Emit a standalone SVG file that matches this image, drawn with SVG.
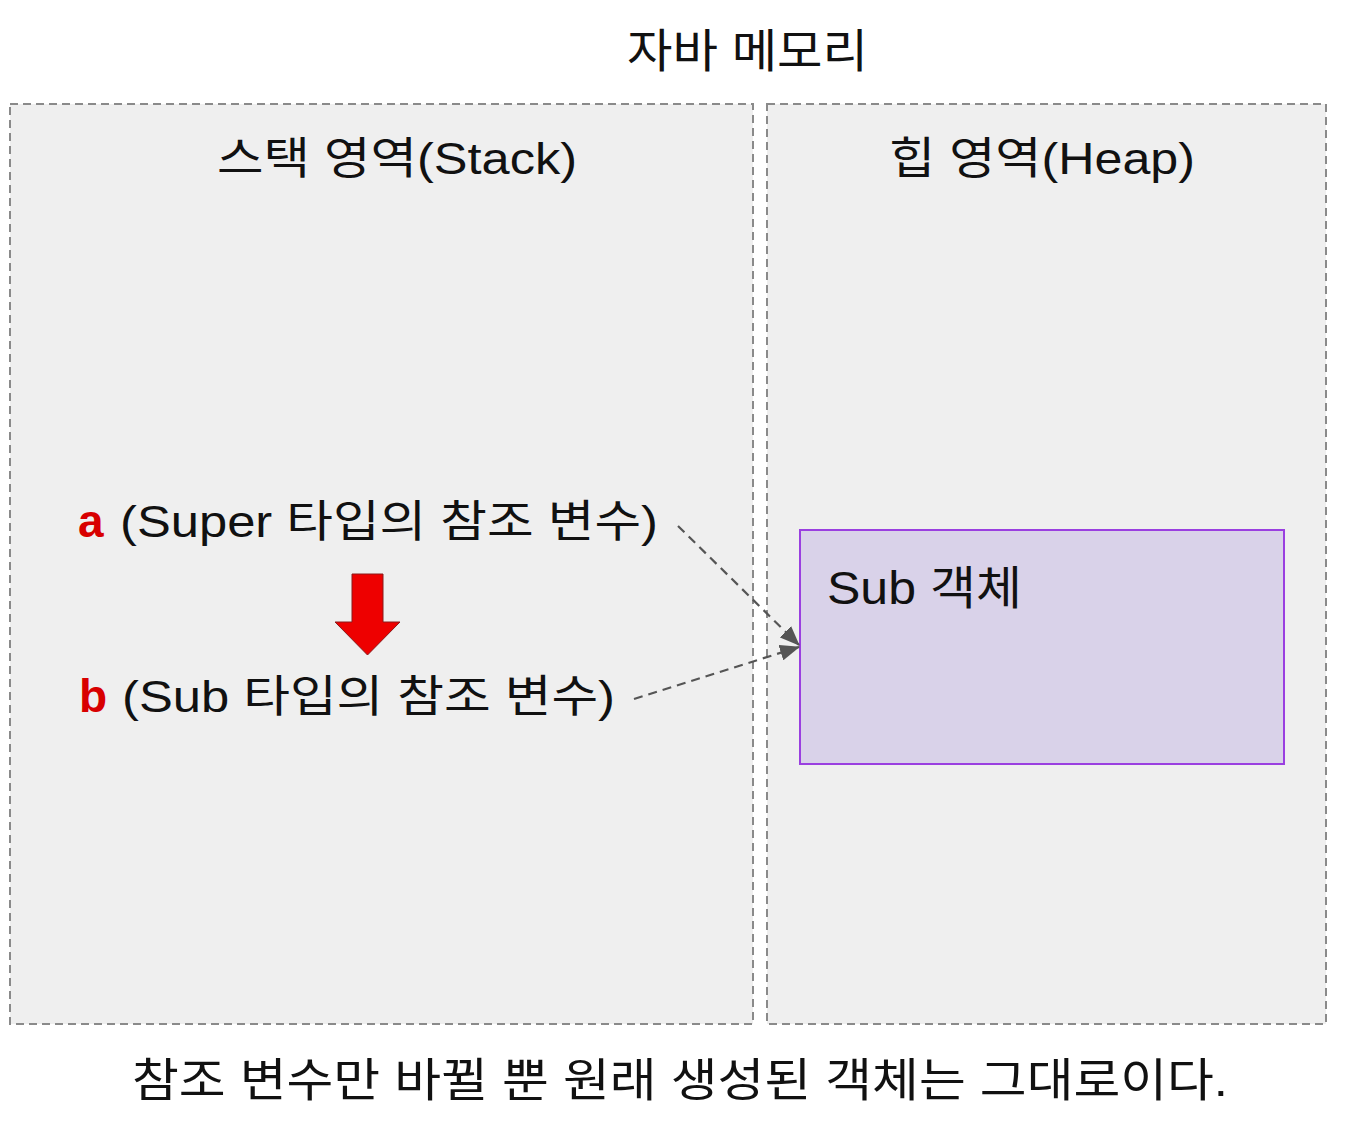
<svg xmlns="http://www.w3.org/2000/svg" width="1348" height="1130" viewBox="0 0 1348 1130">
<style>
.t{font-family:"Liberation Sans","Noto Sans CJK KR",sans-serif;fill:#111;}
.panel{fill:#efefef;stroke:#8a8a8a;stroke-width:2;stroke-dasharray:8 5;}
.conn{fill:none;stroke:#555;stroke-width:2.2;stroke-dasharray:9 6;}
.var{font-family:"Liberation Sans",sans-serif;font-weight:bold;fill:#d80000;}
</style>
<defs>
<marker id="ah" markerWidth="20" markerHeight="16" refX="19" refY="8" orient="auto" markerUnits="userSpaceOnUse" viewBox="0 0 20 16">
<path d="M0,0 L20,8 L0,16 Z" fill="#555"/>
</marker>
</defs>
<rect width="1348" height="1130" fill="#ffffff"/>
<text class="t" x="627" y="67" font-size="46" textLength="241" lengthAdjust="spacingAndGlyphs">자바 메모리</text>
<g id="stack">
<rect class="panel" x="10" y="104" width="743" height="920"/>
<text class="t" x="217" y="174" font-size="44" textLength="360" lengthAdjust="spacingAndGlyphs">스택 영역(Stack)</text>
</g>
<g id="heap">
<rect class="panel" x="767" y="104" width="559" height="920"/>
<text class="t" x="889" y="174" font-size="44" textLength="306" lengthAdjust="spacingAndGlyphs">힙 영역(Heap)</text>
</g>
<g id="var-a">
<text class="var" x="78" y="537" font-size="46">a</text>
<text class="t" x="120" y="537" font-size="44" textLength="538" lengthAdjust="spacingAndGlyphs">(Super 타입의 참조 변수)</text>
</g>
<g id="var-b">
<text class="var" x="79" y="712" font-size="46">b</text>
<text class="t" x="122" y="712" font-size="44" textLength="493" lengthAdjust="spacingAndGlyphs">(Sub 타입의 참조 변수)</text>
</g>
<g id="red-arrow">
<path d="M352,574 L383,574 L383,622 L400,622 L367.5,655 L335,622 L352,622 Z" fill="#ee0000" stroke="#8a1a1a" stroke-width="1"/>
</g>
<g id="sub-object">
<rect x="800" y="530" width="484" height="234" fill="#d9d2e9" stroke="#9a3fe0" stroke-width="2"/>
<text class="t" x="827" y="604" font-size="46" textLength="195" lengthAdjust="spacingAndGlyphs">Sub 객체</text>
</g>
<g id="connectors">
<path class="conn" d="M678,526 L799,645" marker-end="url(#ah)"/>
<path class="conn" d="M634,699 L799,647" marker-end="url(#ah)"/>
</g>
<text class="t" x="132" y="1096" font-size="46" textLength="1096" lengthAdjust="spacingAndGlyphs">참조 변수만 바뀔 뿐 원래 생성된 객체는 그대로이다.</text>
</svg>
